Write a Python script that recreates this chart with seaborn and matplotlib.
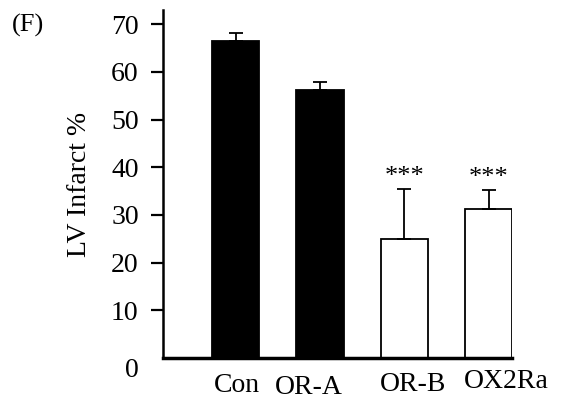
import matplotlib
matplotlib.use("Agg")
import matplotlib.pyplot as plt
import matplotlib.transforms as mtransforms
import seaborn as sns
import pandas as pd
import numpy as np

groups = ["Con", "OR-A", "OR-B", "OX2Ra"]
means = [66.6, 56.2, 25.0, 31.3]
sem = [1.5, 1.7, 10.5, 4.0]
sig = ["", "", "***", "***"]
fills = ["black", "black", "white", "white"]
yticks = [0, 10, 20, 30, 40, 50, 60, 70]

sns.set_style("ticks")
plt.rcParams["font.family"] = ["Liberation Serif", "DejaVu Serif"]
plt.rcParams["text.color"] = "black"
plt.rcParams["axes.labelcolor"] = "black"
plt.rcParams["xtick.color"] = "black"
plt.rcParams["ytick.color"] = "black"
plt.rcParams["axes.edgecolor"] = "black"

df = pd.DataFrame({"group": groups, "value": means})

fig = plt.figure(figsize=(5.66, 4.0), dpi=100)
ax = fig.add_axes([0.288, 0.105, 0.617, 0.87])

sns.barplot(data=df, x="group", y="value", hue="group", palette=fills,
            edgecolor="black", linewidth=1.3, width=0.56, legend=False,
            errorbar=None, ax=ax)

xs = [p.get_x() + p.get_width() / 2 for p in ax.patches]
ax.errorbar(xs, means, yerr=[np.zeros(len(sem)), sem], fmt="none",
            ecolor="black", elinewidth=1.3, capsize=5, capthick=1.3, zorder=1)

for x, m, e, s in zip(xs, means, sem, sig):
    if s:
        ax.text(x, m + e + 0.2, s, ha="center", va="bottom", fontsize=19)

ax.set_ylim(0, 73)
ax.set_xlim(-0.86, 3.28)
ax.set_yticks(yticks)
ax.set_yticklabels([str(t) for t in yticks], fontsize=20)
ax.tick_params(axis="y", length=8.5, width=1.6, pad=9, direction="out")
ax.tick_params(axis="x", length=0, pad=11, labelsize=20)
ax.yaxis.get_major_ticks()[0].tick1line.set_visible(False)
zero_lbl = ax.yaxis.get_major_ticks()[0].label1
zero_lbl.set_transform(zero_lbl.get_transform() +
                       mtransforms.ScaledTranslation(0, -7 / 72, fig.dpi_scale_trans))

# per-label offsets (points) as in the reference
offs = [(1, 0), (-8, -1.5), (6, 1), (13, 3)]
for lbl, (dx, dy) in zip(ax.get_xticklabels(), offs):
    lbl.set_transform(lbl.get_transform() +
                      mtransforms.ScaledTranslation(dx / 72, dy / 72, fig.dpi_scale_trans))

ax.set_xlabel("")
ax.set_ylabel("LV Infarct %", fontsize=20, labelpad=14)
for side in ["top", "right"]:
    ax.spines[side].set_visible(False)
ax.spines["left"].set_linewidth(1.8)
ax.spines["bottom"].set_linewidth(2.5)

fig.text(0.021, 0.9375, "(F)", fontsize=19, ha="left", va="center")

fig.savefig("out.png", dpi=100)
